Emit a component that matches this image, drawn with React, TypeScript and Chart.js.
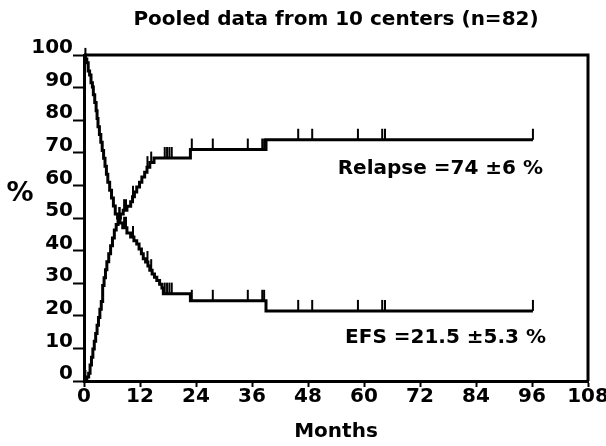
import React, { useEffect, useRef } from "react";
import { Chart, registerables } from "chart.js";

Chart.register(...registerables);

const titleText = "Pooled data from 10 centers (n=82)";
const xAxisTitle = "Months";
const yAxisTitle = "%";
const efsLabel = "EFS =21.5 \u00b15.3 %";
const relapseLabel = "Relapse =74 \u00b16 %";

const xMin = 0;
const xMax = 108;
const xStep = 12;
const yMin = 0;
const yMax = 100;
const yStep = 10;

// Event-free survival (Kaplan-Meier steps): month of step, value after step
const efsMonths = [0, 0.3, 0.6, 0.9, 1.2, 1.5, 1.8, 2.0, 2.3, 2.6, 2.8, 3.0, 3.3, 3.6, 3.9, 4.2, 4.5, 4.8, 5.1, 5.5, 5.9, 6.3, 6.7, 7.2, 7.7, 8.3, 9.2, 10.0, 10.7, 11.3, 11.8, 12.3, 12.7, 13.2, 13.7, 14.1, 14.6, 15.1, 15.6, 16.2, 16.7, 17.0, 22.8, 39.0, 96.2];
const efsValues = [100, 98.8, 97.6, 95.1, 93.9, 91.5, 90.2, 87.8, 85.4, 82.9, 80.5, 78.0, 75.6, 73.2, 70.7, 68.3, 65.9, 63.4, 61.0, 58.5, 56.1, 53.7, 51.2, 50.0, 48.5, 47.0, 45.4, 44.2, 43.0, 42.0, 40.5, 39.0, 37.5, 36.5, 35.3, 34.0, 32.8, 31.8, 30.8, 29.7, 28.5, 26.8, 24.6, 21.5, 21.5];

// Cumulative relapse (steps)
const relapseMonths = [0, 0.6, 1.0, 1.3, 1.6, 1.9, 2.2, 2.5, 2.8, 3.1, 3.4, 3.7, 4.0, 4.3, 4.6, 4.9, 5.3, 5.7, 6.1, 6.5, 6.9, 7.3, 7.8, 8.4, 9.2, 10.0, 10.4, 10.8, 11.3, 11.9, 12.4, 13.0, 13.5, 14.1, 15.0, 22.8, 39.0, 96.2];
const relapseValues = [0, 1.2, 2.4, 4.9, 7.3, 9.8, 12.2, 14.6, 17.1, 19.5, 22.0, 24.4, 29.3, 31.7, 34.1, 36.6, 39.0, 41.5, 43.9, 46.3, 48.0, 50.0, 51.2, 52.4, 53.6, 55.0, 56.5, 58.0, 59.5, 61.0, 62.6, 64.0, 65.6, 67.0, 68.4, 71.0, 74.0, 74.0];

// Censored observations (months)
const censorMonths = [0.3, 7.6, 8.6, 9.0, 10.5, 13.6, 14.4, 17.3, 17.8, 18.3, 18.8, 23.1, 27.6, 35.1, 38.2, 38.6, 45.9, 48.9, 58.7, 63.9, 64.5, 96.2];

const FONT = "'DejaVu Sans', sans-serif";

function valueAt(months: number[], values: number[], t: number): number {
  let v = values[0];
  for (let i = 0; i < months.length; i++) {
    if (months[i] <= t) v = values[i];
  }
  return v;
}

const textPlugin = {
  id: "extraText",
  afterDraw(chart: any) {
    const { ctx, chartArea, scales } = chart;
    const y = scales.y;
    ctx.save();
    // frame
    ctx.strokeStyle = "#000";
    ctx.lineWidth = 3;
    ctx.beginPath();
    ctx.moveTo(chartArea.left, chartArea.top);
    ctx.lineTo(chartArea.right, chartArea.top);
    ctx.lineTo(chartArea.right, chartArea.bottom);
    ctx.stroke();
    ctx.fillStyle = "#000";
    // y axis title (unrotated)
    ctx.font = `bold 27px ${FONT}`;
    ctx.textAlign = "center";
    ctx.textBaseline = "middle";
    ctx.fillText(yAxisTitle, 20, y.getPixelForValue(57.5));
    // curve labels
    ctx.font = `bold 20px ${FONT}`;
    ctx.textAlign = "right";
    ctx.fillText(relapseLabel, chartArea.right - 45, y.getPixelForValue(65));
    ctx.fillText(efsLabel, chartArea.right - 42, y.getPixelForValue(13.2));
    ctx.restore();
  },
};

export default function App() {
  const canvasRef = useRef<HTMLCanvasElement | null>(null);

  useEffect(() => {
    const canvas = canvasRef.current;
    if (!canvas) return;

    const efsData = efsMonths.map((m, i) => ({ x: m, y: efsValues[i] }));
    const relData = relapseMonths.map((m, i) => ({ x: m, y: relapseValues[i] }));
    const efsCensor = censorMonths.map((m) => ({ x: m, y: valueAt(efsMonths, efsValues, m) }));
    const relCensor = censorMonths.map((m) => ({ x: m, y: valueAt(relapseMonths, relapseValues, m) }));

    const lineDs = (label: string, data: any[]) => ({
      label,
      data,
      stepped: "before" as const,
      borderColor: "#000",
      borderWidth: 3,
      pointRadius: 0,
      fill: false,
      clip: false as const,
    });
    const censorDs = (label: string, data: any[]) => ({
      label,
      data,
      showLine: false,
      pointStyle: "dash" as const,
      pointRotation: -90,
      pointRadius: 11,
      pointBorderWidth: 2,
      pointBorderColor: "#000",
      pointBackgroundColor: "#000",
      borderColor: "#000",
      clip: false as const,
    });

    const chart = new Chart(canvas, {
      type: "line",
      data: {
        datasets: [
          lineDs("EFS", efsData),
          lineDs("Relapse", relData),
          censorDs("EFS censored", efsCensor),
          censorDs("Relapse censored", relCensor),
        ],
      },
      options: {
        animation: false,
        responsive: false,
        events: [],
        layout: { padding: { left: 0, right: 18, top: 0, bottom: 0 } },
        plugins: {
          legend: { display: false },
          tooltip: { enabled: false },
          title: {
            display: true,
            text: titleText,
            color: "#000",
            fullSize: false,
            font: { family: FONT, size: 20, weight: "bold", lineHeight: 1.2 },
            padding: { top: 8, bottom: 23 },
          },
        },
        scales: {
          x: {
            type: "linear",
            min: xMin,
            max: xMax,
            afterFit: (s: any) => {
              s.height = 65;
              s.paddingLeft = 0;
              s.paddingRight = 0;
            },
            ticks: {
              stepSize: xStep,
              color: "#000",
              font: { family: FONT, size: 20, weight: "bold", lineHeight: 1 },
              padding: 0,
              maxRotation: 0,
              autoSkip: false,
            },
            grid: {
              display: true,
              drawOnChartArea: false,
              drawTicks: true,
              tickLength: 6,
              tickColor: "#000",
              tickWidth: 2,
            },
            border: { display: true, color: "#000", width: 3 },
            title: {
              display: true,
              text: xAxisTitle,
              color: "#000",
              font: { family: FONT, size: 20, weight: "bold", lineHeight: 1.2 },
              padding: { top: 0, bottom: 2 },
            },
          },
          y: {
            type: "linear",
            min: yMin,
            max: yMax,
            afterFit: (s: any) => {
              s.width = 84;
              s.paddingTop = 0;
              s.paddingBottom = 0;
            },
            ticks: {
              stepSize: yStep,
              color: "#000",
              font: { family: FONT, size: 20, weight: "bold", lineHeight: 1.2 },
              padding: 0,
              labelOffset: -7,
            },
            grid: {
              display: true,
              drawOnChartArea: false,
              drawTicks: true,
              tickLength: 11,
              tickColor: "#000",
              tickWidth: 2,
            },
            border: { display: true, color: "#000", width: 3 },
          },
        },
      },
      plugins: [textPlugin],
    } as any);

    return () => chart.destroy();
  }, []);

  return (
    <div style={{ position: "fixed", left: 0, top: 0, width: 606, height: 446, background: "#fff" }}>
      <canvas ref={canvasRef} width={606} height={446} style={{ display: "block", width: 606, height: 446 }} />
    </div>
  );
}
